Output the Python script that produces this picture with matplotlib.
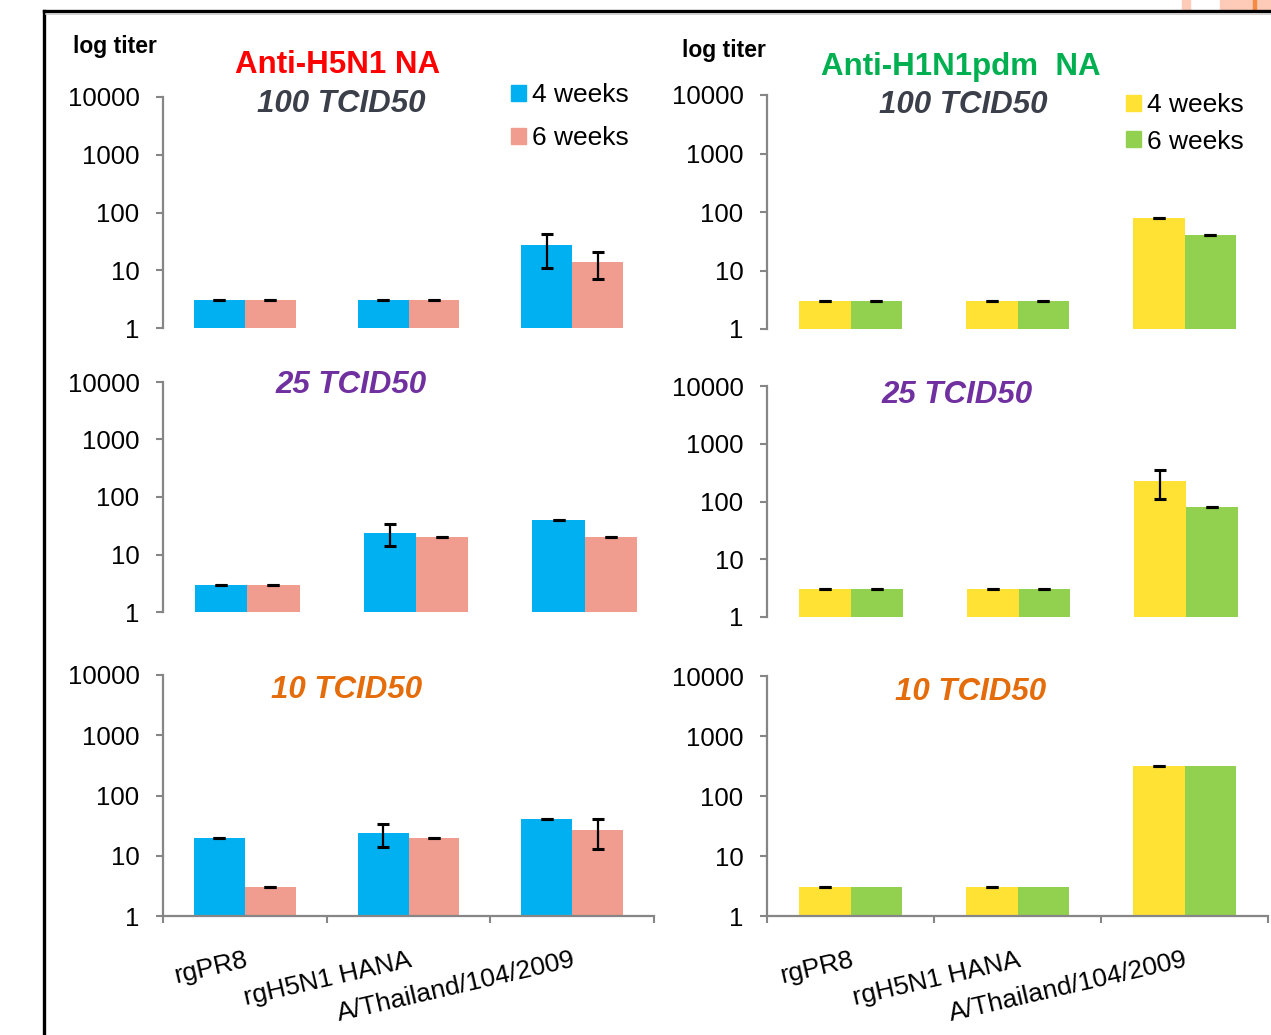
import matplotlib
matplotlib.use("Agg")
import matplotlib.pyplot as plt
from matplotlib.patches import Patch, Rectangle
from matplotlib.lines import Line2D

plt.rcParams['font.family'] = ['Liberation Sans', 'DejaVu Sans']

W, H = 1271, 1035

# ---- data ----
categories = ['rgPR8', 'rgH5N1 HANA', 'A/Thailand/104/2009']
series_labels = ['4 weeks', '6 weeks']
doses = ['100 TCID50', '25 TCID50', '10 TCID50']

# Anti-H5N1 NA
h5_4w_100 = [3, 3, 27]
h5_4w_100_err = [0, 0, 16]
h5_6w_100 = [3, 3, 14]
h5_6w_100_err = [0, 0, 7]
h5_4w_25 = [3, 24, 40]
h5_4w_25_err = [0, 10, 0]
h5_6w_25 = [3, 20, 20]
h5_6w_25_err = [0, 0, 0]
h5_4w_10 = [20, 24, 40]
h5_4w_10_err = [0, 10, 0]
h5_6w_10 = [3, 20, 27]
h5_6w_10_err = [0, 0, 14]

# Anti-H1N1pdm NA
h1_4w_100 = [3, 3, 80]
h1_4w_100_err = [0, 0, 0]
h1_6w_100 = [3, 3, 40]
h1_6w_100_err = [0, 0, 0]
h1_4w_25 = [3, 3, 230]
h1_4w_25_err = [0, 0, 120]
h1_6w_25 = [3, 3, 80]
h1_6w_25_err = [0, 0, 0]
h1_4w_10 = [3, 3, 320]
h1_4w_10_err = [0, 0, 0]
h1_6w_10 = [3, 3, 320]
h1_6w_10_err = None

blue, salmon = '#00B0F0', '#F09C8E'
yellow, green = '#FFE234', '#92D050'
gray = '#868686'
dose_colors = ['#3B3F4A', '#7030A0', '#E46C0A']


def px_rect(x0, x1, ytop, ybot):
    return [x0 / W, 1 - ybot / H, (x1 - x0) / W, (ybot - ytop) / H]


def fx(x):
    return x / W


def fy(y):
    return 1 - y / H


fig = plt.figure(figsize=(W / 100, H / 100), dpi=100)

panels = [
    # rect, values a, err a, values b, err b, colours, show x axis
    (px_rect(163, 654, 97, 328), h5_4w_100, h5_4w_100_err, h5_6w_100, h5_6w_100_err, (blue, salmon), False),
    (px_rect(163, 669, 382, 612), h5_4w_25, h5_4w_25_err, h5_6w_25, h5_6w_25_err, (blue, salmon), False),
    (px_rect(163, 654, 675, 916), h5_4w_10, h5_4w_10_err, h5_6w_10, h5_6w_10_err, (blue, salmon), True),
    (px_rect(767, 1268, 95, 329), h1_4w_100, h1_4w_100_err, h1_6w_100, h1_6w_100_err, (yellow, green), False),
    (px_rect(767, 1270, 386, 617), h1_4w_25, h1_4w_25_err, h1_6w_25, h1_6w_25_err, (yellow, green), False),
    (px_rect(767, 1268, 676, 916), h1_4w_10, h1_4w_10_err, h1_6w_10, h1_6w_10_err, (yellow, green), True),
]

bw = 0.31
x = list(range(len(categories)))
err_kw = dict(ecolor='black', elinewidth=1.6, capsize=4.5, capthick=2.2)

axes = []
for rect, va, ea, vb, eb, cols, show_x in panels:
    ax = fig.add_axes(rect)
    axes.append(ax)
    ax.bar([i - bw / 2 for i in x], [v - 1 for v in va], bottom=1, width=bw,
           color=cols[0], yerr=ea, error_kw=err_kw)
    ax.bar([i + bw / 2 for i in x], [v - 1 for v in vb], bottom=1, width=bw,
           color=cols[1], yerr=eb, error_kw=err_kw if eb is not None else None)
    ax.set_yscale('log')
    ax.set_ylim(1, 10000)
    ax.set_xlim(-0.5, 2.5)
    ax.set_yticks([1, 10, 100, 1000, 10000])
    ax.set_yticklabels(['1', '10', '100', '1000', '10000'])
    ax.minorticks_off()
    ax.tick_params(axis='y', direction='out', length=5, width=1.5, color=gray,
                   labelsize=18.5, pad=12)
    for s in ['top', 'right']:
        ax.spines[s].set_visible(False)
    ax.spines['left'].set_color(gray)
    ax.spines['left'].set_linewidth(1.6)
    ax.patch.set_alpha(0)
    if show_x:
        ax.spines['bottom'].set_color(gray)
        ax.spines['bottom'].set_linewidth(1.6)
        ax.set_xticks([-0.5, 0.5, 1.5, 2.5])
        ax.set_xticklabels([])
        ax.tick_params(axis='x', which='major', direction='out', length=5,
                       width=1.5, color=gray)
        ax.set_xticks(x, minor=True)
        ax.set_xticklabels(categories, minor=True, rotation=13, ha='right',
                           va='top', rotation_mode='anchor', fontsize=19)
        ax.tick_params(axis='x', which='minor', length=0, pad=23)
    else:
        ax.spines['bottom'].set_visible(False)
        ax.set_xticks([])

# legends
leg_kw = dict(loc='upper left', frameon=False, fontsize=19, handlelength=0.55,
              handleheight=0.55, handletextpad=0.25, borderpad=0,
              borderaxespad=0, bbox_transform=fig.transFigure)
axes[0].legend([Patch(color=blue), Patch(color=salmon)], series_labels,
               bbox_to_anchor=(fx(511), fy(83)), labelspacing=0.72, **leg_kw)
axes[3].legend([Patch(color=yellow), Patch(color=green)], series_labels,
               bbox_to_anchor=(fx(1126), fy(93)), labelspacing=0.48, **leg_kw)

# titles
fig.text(fx(115), fy(47), 'log titer', fontsize=16.5, fontweight='bold',
         ha='center', va='center')
fig.text(fx(724), fy(50), 'log titer', fontsize=16.5, fontweight='bold',
         ha='center', va='center')
fig.text(fx(338), fy(65), 'Anti-H5N1 NA', fontsize=22.5, fontweight='bold',
         color='#FF0000', ha='center', va='center')
fig.text(fx(961), fy(67), 'Anti-H1N1pdm  NA', fontsize=22.5, fontweight='bold',
         color='#00B050', ha='center', va='center')

dose_pos_left = [(341, 104), (351, 385), (347, 690)]
dose_pos_right = [(963, 105), (957, 395), (971, 692)]
for d, c, pl, pr in zip(doses, dose_colors, dose_pos_left, dose_pos_right):
    for px, py in (pl, pr):
        fig.text(fx(px), fy(py), d, fontsize=22.5, fontweight='bold',
                 fontstyle='italic', color=c, ha='center', va='center')

# slide frame and stray shapes from the slide
fig.add_artist(Line2D([fx(44), 1], [fy(11), fy(11)], color='black', lw=2.4))
fig.add_artist(Line2D([fx(44), fx(44)], [fy(11), 0], color='black', lw=2.4))
fig.add_artist(Line2D([fx(46), 1], [fy(14), fy(14)], color='#C8C8C8', lw=1.2))
fig.add_artist(Rectangle((fx(1182), fy(10)), 8 / W, 10 / H, color='#FDCBB8',
                         transform=fig.transFigure))
fig.add_artist(Rectangle((fx(1220), fy(10)), 51 / W, 10 / H, color='#FDCBB8',
                         transform=fig.transFigure))
fig.add_artist(Rectangle((fx(1253), fy(10)), 3 / W, 10 / H, color='#F58A40',
                         transform=fig.transFigure))

fig.savefig('out.png', dpi=100)
